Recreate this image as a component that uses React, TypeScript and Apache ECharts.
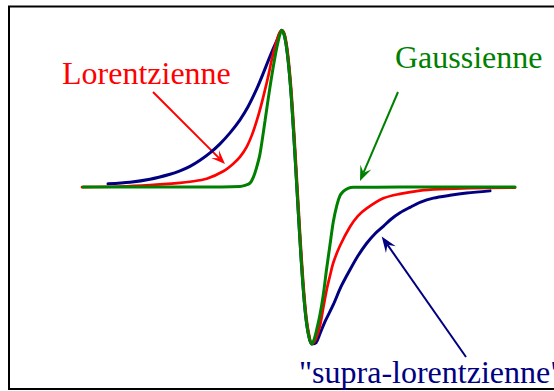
import React, { useEffect, useRef } from "react";
import * as echarts from "echarts";

// x: field offset (arbitrary units), y: amplitude in % of peak
const gaussX = [-214, -97, -57, -52, -47, -43.7, -40.5, -37, -32, -27, -22, -18, -15.3, -12.5, -9.5, -6.3, -3.3, -0.3, 2.7, 5.7, 8.7, 11.7, 14.7, 17, 19.7, 23, 26.3, 29.5, 33, 36.3, 39.7, 43, 46.3, 51, 56.3, 103, 218];
const gaussY = [0, 0, 0.4, 1.1, 2.5, 6.2, 12.3, 21.2, 42.2, 63.9, 83.0, 95.1, 100, 96.4, 84.3, 62.6, 33.9, 1.5, -31.1, -60.3, -82.2, -94.7, -100, -97.3, -90.9, -81.3, -68.6, -52.7, -36.8, -22.1, -11.9, -5.5, -2.7, -0.8, -0.1, 0, 0];

const lorentzX = [-215, -177, -147, -117, -107, -90.3, -73.7, -64, -57, -50.3, -45, -40.3, -36, -32, -28.5, -25.3, -22, -19.5, -17.3, -15, -12, -9, -5.8, -2.8, 0.2, 3.2, 6.2, 9.2, 12.2, 15, 18.5, 23, 26.3, 29.7, 33, 36.3, 43, 53, 61, 69.7, 86.3, 103, 123, 143, 173, 218];
const lorentzY = [0, 0.4, 1.3, 2.7, 3.4, 5.3, 10.1, 14.8, 19.3, 25.7, 33.3, 42.2, 51.8, 62.0, 71.5, 81.1, 89.4, 94.8, 98.6, 100, 96.4, 84.3, 62.6, 33.9, 1.5, -31.1, -60.3, -82.2, -94.7, -100, -97.3, -88.3, -76.9, -65.4, -56.5, -48.2, -37.4, -25.3, -18.3, -13.5, -7.1, -4.3, -2.2, -1.3, -0.6, -0.3];

const supraX = [-189, -167, -147, -127, -117, -107, -97, -87, -77, -67, -57, -49, -40.3, -34, -27, -20.3, -15.3, -12.5, -9.5, -6.3, -3.3, -0.3, 2.7, 5.7, 8.7, 11.7, 14.7, 19, 23, 28, 36.3, 44, 53, 61, 69.7, 78, 86.3, 94, 103, 113, 123, 136.3, 153, 169.7, 193];
const supraY = [2.1, 3.1, 5.0, 8.2, 10.4, 13.2, 17.1, 21.8, 27.6, 34.6, 42.9, 51.2, 62.6, 72.2, 83.4, 93.2, 100, 96.4, 84.3, 62.6, 33.9, 1.5, -31.1, -60.3, -82.2, -94.7, -100, -99.2, -93.4, -85.8, -75.0, -63.5, -52.7, -43.8, -35.8, -29.7, -25.0, -20.5, -16.4, -12.9, -9.7, -7.0, -5.2, -3.8, -2.4];

const labels = {
  lorentz: "Lorentzienne",
  gauss: "Gaussienne",
  supra: "\"supra-lorentzienne\"",
};

const RED = "#ff0000";
const GREEN = "#008000";
const NAVY = "#000080";

function pairs(xs: number[], ys: number[]) {
  return xs.map((x, i) => [x, ys[i]]);
}

function arrow(tail: number[], tip: number[], color: string, len: number, halfW: number, notch: number) {
  const dx = tip[0] - tail[0];
  const dy = tip[1] - tail[1];
  const L = Math.hypot(dx, dy);
  const ux = dx / L, uy = dy / L;
  const nx = -uy, ny = ux;
  const bx = tip[0] - ux * len, by = tip[1] - uy * len;
  const mx = tip[0] - ux * notch, my = tip[1] - uy * notch;
  return [
    {
      type: "line",
      shape: { x1: tail[0], y1: tail[1], x2: mx, y2: my },
      style: { stroke: color, lineWidth: 2 },
    },
    {
      type: "polygon",
      shape: {
        points: [
          [tip[0], tip[1]],
          [bx + nx * halfW, by + ny * halfW],
          [mx, my],
          [bx - nx * halfW, by - ny * halfW],
        ],
      },
      style: { fill: color },
    },
  ];
}

export default function App() {
  const ref = useRef<HTMLDivElement>(null);
  useEffect(() => {
    if (!ref.current) return;
    const chart = echarts.init(ref.current, null, { renderer: "svg" });
    const textStyle = {
      fontFamily: "'Liberation Serif', 'Times New Roman', Times, serif",
      fontSize: 32,
      verticalAlign: "middle",
    };
    const lineBase = {
      type: "line",
      showSymbol: false,
      smooth: 0.3,
      silent: true,
    };
    chart.setOption({
      animation: false,
      backgroundColor: "#ffffff",
      grid: { left: 7, right: 0, top: 6.75, height: 384.65 },
      xAxis: { type: "value", min: -290, max: 257, show: false, splitLine: { show: false } },
      yAxis: { type: "value", min: -130, max: 115, show: false, splitLine: { show: false } },
      series: [
        { ...lineBase, name: "supra", data: pairs(supraX, supraY), lineStyle: { color: NAVY, width: 3, cap: "round" }, z: 2 },
        { ...lineBase, name: "lorentz", data: pairs(lorentzX, lorentzY), lineStyle: { color: RED, width: 2.7, cap: "round" }, z: 3 },
        { ...lineBase, name: "gauss", data: pairs(gaussX, gaussY), lineStyle: { color: GREEN, width: 3, cap: "round" }, z: 4 },
      ],
      graphic: [
        {
          type: "rect",
          shape: { x: 9, y: 6.5, width: 600, height: 382.5 },
          style: { fill: "none", stroke: "#000", lineWidth: 2 },
          z: 10,
        },
        { type: "text", x: 62, y: 73, style: { ...textStyle, text: labels.lorentz, fill: RED }, z: 10 },
        { type: "text", x: 395, y: 57, style: { ...textStyle, text: labels.gauss, fill: GREEN }, z: 10 },
        { type: "text", x: 299, y: 372, style: { ...textStyle, text: labels.supra, fill: NAVY }, z: 10 },
        ...arrow([153, 92], [225, 164], RED, 14, 5.5, 8),
        ...arrow([398, 92], [360, 181], GREEN, 15, 6, 9),
        ...arrow([466, 357], [381.7, 236.5], NAVY, 16, 6, 10),
      ],
    });
    return () => chart.dispose();
  }, []);
  return (
    <div
      ref={ref}
      style={{ position: "fixed", left: 0, top: 0, width: 554, height: 391, background: "#fff" }}
    />
  );
}
